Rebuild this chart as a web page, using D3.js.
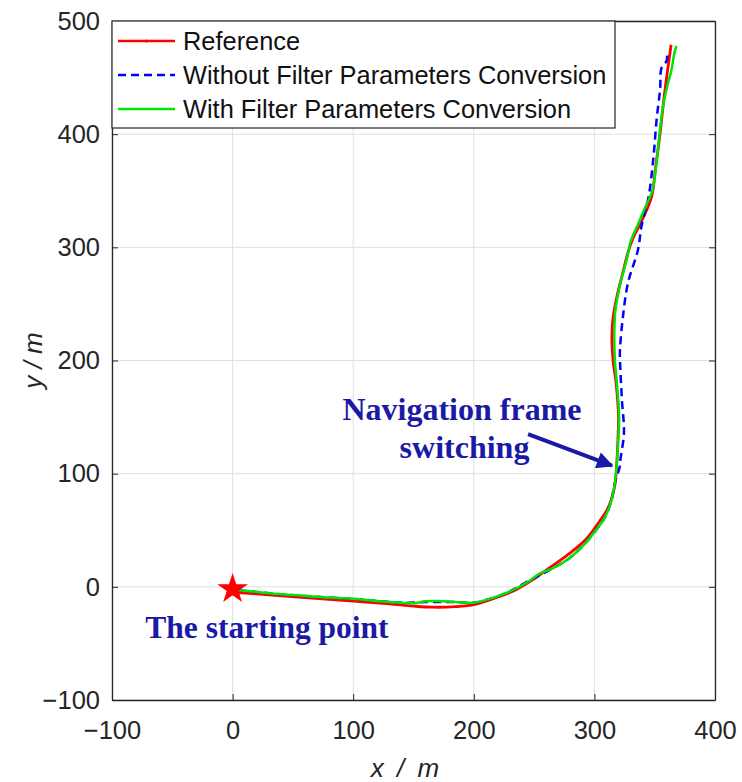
<!DOCTYPE html>
<html>
<head>
<meta charset="utf-8">
<script src="https://cdn.jsdelivr.net/npm/d3@7"></script>
<style>
  body { margin: 0; background: #fff; }
  svg { font-family: "Liberation Sans", Arial, sans-serif; }
</style>
</head>
<body>
<svg id="chart"></svg>
<script>
// axis ticks
const xTicks = [-100, 0, 100, 200, 300, 400];
const yTicks = [-100, 0, 100, 200, 300, 400, 500];

// trajectories, [x, y] in metres
const referencePath = [
  [4.5, -5], [30, -7], [60, -9.5], [100, -12.5], [130, -15], [150, -17], [166, -18],
  [185, -17.5], [201, -15.5], [220, -9], [235, -2.5], [250, 7], [263, 17], [280, 30],
  [293, 42], [303, 56], [310, 67], [314, 77], [317, 90], [318.5, 108], [319.5, 130],
  [320, 150], [318, 180], [315.5, 200], [314.5, 220], [315.5, 238], [319, 258],
  [323, 275], [328, 296], [332, 308], [340, 325], [347.5, 345], [350.5, 368.6], [354.5, 401],
  [357.5, 430], [360.5, 455], [363.6, 479]
];

const withoutConvPath = [
  [5, -3], [20, -4.5], [40, -6.5], [60, -8], [80, -9.5], [100, -10.5], [120, -12.5],
  [140, -14], [160, -13.5], [185, -13.5], [200, -14], [215, -10], [230, -4], [245, 5],
  [265, 16], [280, 26], [292, 38], [302, 51], [309, 62], [314, 76], [317, 92], [321, 106],
  [321.5, 112], [324.5, 136], [322.8, 165.5], [321.2, 200.8], [321.2, 209.7], [323.7, 239],
  [327.9, 268.8], [336.2, 298], [339, 318.5], [345, 345], [349, 380], [351.6, 413],
  [354.5, 440], [355.5, 458], [358, 462], [360, 465], [360, 473]
];

const withConvPath = [
  [5, -3], [20, -4.5], [40, -6.5], [60, -8], [80, -9.5], [100, -10.5], [120, -12.5],
  [140, -14], [150, -14.5], [160, -12.8], [170, -12.5], [185, -13.5], [200, -14], [215, -10],
  [230, -4], [245, 4.5], [255, 12], [265, 16], [280, 26], [292, 38], [302, 51], [309, 62],
  [314, 76], [317, 92], [318.5, 108], [319.5, 125], [320.5, 150], [319, 175], [317, 200],
  [316.5, 225], [317.5, 245], [321.5, 268], [327, 290], [330, 305], [336, 320], [342, 335],
  [348, 350], [351, 370], [354, 400], [357, 425], [361, 445], [364, 457], [366, 470], [368, 478]
];

const startPoint = [0, -2];

const seriesNames = ["Reference", "Without Filter Parameters Conversion", "With Filter Parameters Conversion"];
const seriesColors = ["#ff0000", "#0000ff", "#00e600"];

const W = 742, H = 782;
const margin = { top: 21, right: 27, bottom: 82, left: 112 };
const width = W - margin.left - margin.right;
const height = H - margin.top - margin.bottom;
const ink = "#262626";
const annot = "#1a1aa6";

const svg = d3.select("#chart").attr("width", W).attr("height", H);
const g = svg.append("g").attr("transform", `translate(${margin.left},${margin.top})`);

const x = d3.scaleLinear().domain([-100, 400]).range([0, width]);
const y = d3.scaleLinear().domain([-100, 500]).range([height, 0]);

// grid
g.append("g").selectAll("line").data(xTicks).join("line")
  .attr("x1", d => x(d)).attr("x2", d => x(d)).attr("y1", 0).attr("y2", height)
  .attr("stroke", "#e0e0e0").attr("stroke-width", 1);
g.append("g").selectAll("line").data(yTicks).join("line")
  .attr("y1", d => y(d)).attr("y2", d => y(d)).attr("x1", 0).attr("x2", width)
  .attr("stroke", "#e0e0e0").attr("stroke-width", 1);

// lines
const line = d3.line().x(d => x(d[0])).y(d => y(d[1])).curve(d3.curveCatmullRom);

g.append("path").datum(referencePath)
  .attr("fill", "none").attr("stroke", seriesColors[0]).attr("stroke-width", 2.8).attr("d", line);
g.append("path").datum(withoutConvPath)
  .attr("fill", "none").attr("stroke", seriesColors[1]).attr("stroke-width", 2.5)
  .attr("stroke-dasharray", "8,5").attr("d", line);
g.append("path").datum(withConvPath)
  .attr("fill", "none").attr("stroke", seriesColors[2]).attr("stroke-width", 2.5).attr("d", line);

// start marker
g.append("path")
  .attr("d", d3.symbol(d3.symbolStar, 290)())
  .attr("transform", `translate(${x(startPoint[0])},${y(startPoint[1])})`)
  .attr("fill", "#ff0000");

// axes (box with inward ticks on all sides)
const tickLen = 6;
const axB = g.append("g").attr("transform", `translate(0,${height})`)
  .call(d3.axisBottom(x).tickValues(xTicks).tickSizeInner(-tickLen).tickSizeOuter(0).tickPadding(21).tickFormat(d3.format("d")));
const axL = g.append("g")
  .call(d3.axisLeft(y).tickValues(yTicks).tickSizeInner(-tickLen).tickSizeOuter(0).tickPadding(12).tickFormat(d3.format("d")));
const axT = g.append("g")
  .call(d3.axisTop(x).tickValues(xTicks).tickSizeInner(-tickLen).tickSizeOuter(0).tickFormat(""));
const axR = g.append("g").attr("transform", `translate(${width},0)`)
  .call(d3.axisRight(y).tickValues(yTicks).tickSizeInner(-tickLen).tickSizeOuter(0).tickFormat(""));

[axB, axL, axT, axR].forEach(a => {
  a.select(".domain").attr("stroke", ink).attr("stroke-width", 1.3);
  a.selectAll(".tick line").attr("stroke", ink);
  a.selectAll(".tick text").attr("fill", ink).style("font-size", "25.5px");
});

// axis titles
svg.append("text")
  .attr("x", 405).attr("y", 777)
  .attr("text-anchor", "middle").attr("fill", ink)
  .style("font-size", "26px").style("font-style", "italic").style("word-spacing", "6px")
  .text("x / m");
svg.append("text")
  .attr("transform", `translate(42,${margin.top + y(200)}) rotate(-90)`)
  .attr("text-anchor", "middle").attr("fill", ink)
  .style("font-size", "26px").style("font-style", "italic")
  .text("y / m");

// annotations
const serif = '"Liberation Serif", "Times New Roman", serif';
g.append("text").attr("x", x(190.2)).attr("y", y(147.8))
  .attr("text-anchor", "middle").attr("fill", annot)
  .style("font-family", serif).style("font-weight", "bold").style("font-size", "32px")
  .text("Navigation frame");
g.append("text").attr("x", x(192.3)).attr("y", y(114.2))
  .attr("text-anchor", "middle").attr("fill", annot)
  .style("font-family", serif).style("font-weight", "bold").style("font-size", "32px")
  .text("switching");
g.append("text").attr("x", x(28.5)).attr("y", y(-44.8))
  .attr("text-anchor", "middle").attr("fill", annot)
  .style("font-family", serif).style("font-weight", "bold").style("font-size", "31.5px")
  .text("The starting point");

svg.append("defs").append("marker")
  .attr("id", "arrow").attr("viewBox", "0 0 10 10").attr("refX", 9).attr("refY", 5)
  .attr("markerWidth", 4.8).attr("markerHeight", 4.2).attr("orient", "auto")
  .append("path").attr("d", "M0,0 L10,5 L0,10 Z").attr("fill", annot);
g.append("line")
  .attr("x1", x(245)).attr("y1", y(135)).attr("x2", x(314.6)).attr("y2", y(107))
  .attr("stroke", annot).attr("stroke-width", 4).attr("marker-end", "url(#arrow)");

// legend
const lg = g.append("g");
lg.append("rect").attr("x", 0).attr("y", 0).attr("width", 503).attr("height", 107)
  .attr("fill", "#fff").attr("stroke", ink).attr("stroke-width", 1.2);
const rows = lg.selectAll("g.row").data(seriesNames).join("g")
  .attr("class", "row")
  .attr("transform", (d, i) => `translate(0,${20 + i * 34})`);
rows.append("line").attr("x1", 6).attr("x2", 63).attr("y1", 0).attr("y2", 0)
  .attr("stroke", (d, i) => seriesColors[i]).attr("stroke-width", 2.4)
  .attr("stroke-dasharray", (d, i) => i === 1 ? "8,5" : null);
rows.filter((d, i) => i === 0).append("circle")
  .attr("cx", 34.5).attr("cy", 0).attr("r", 1.5).attr("fill", seriesColors[0]);
rows.append("text").attr("x", 71).attr("y", 0).attr("dy", "0.35em")
  .attr("fill", "#111").style("font-size", "25.4px")
  .text(d => d);
</script>
</body>
</html>
